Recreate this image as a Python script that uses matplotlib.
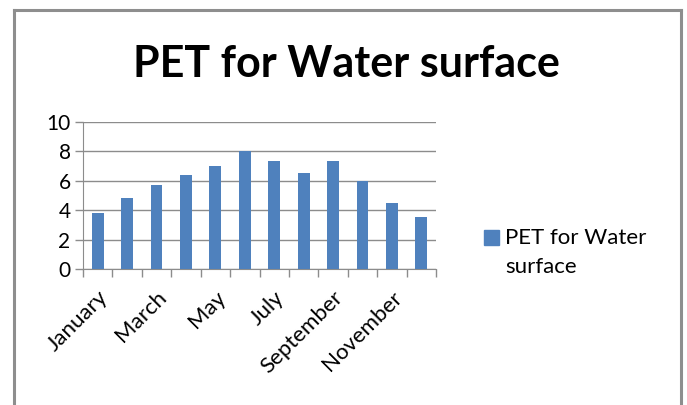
import matplotlib
matplotlib.use("Agg")
import matplotlib.pyplot as plt
from matplotlib.patches import Rectangle
from matplotlib.lines import Line2D
from matplotlib.legend_handler import HandlerPatch

months = ["January", "February", "March", "April", "May", "June",
          "July", "August", "September", "October", "November", "December"]
pet_values = [3.8, 4.85, 5.7, 6.4, 7.0, 8.05, 7.35, 6.55, 7.35, 6.0, 4.5, 3.55]
y_ticks = [0, 2, 4, 6, 8, 10]
series_name = "PET for Water\nsurface"
title_text = "PET for Water surface"

bar_color = "#4F81BD"
grid_color = "#8C8C8C"
font = ["Lato", "DejaVu Sans"]

fig = plt.figure(figsize=(6.87, 4.05), dpi=100)
fig.patch.set_facecolor("white")

# chart frame (left, top, right edges)
W, H = 687, 405
frame_kw = dict(color="#8E8E8E", lw=2.2, transform=fig.transFigure, clip_on=False)
fig.add_artist(Line2D([14 / W, 14 / W], [0, 1 - 10 / H], **frame_kw))
fig.add_artist(Line2D([14 / W, 681 / W], [1 - 10 / H, 1 - 10 / H], **frame_kw))
fig.add_artist(Line2D([681 / W, 681 / W], [0, 1 - 10 / H], **frame_kw))

ax = fig.add_axes([83 / W, 1 - 269 / H, (436 - 83) / W, (269 - 122) / H])
x = list(range(len(months)))
ax.bar(x, pet_values, width=0.4, color=bar_color, zorder=3)

ax.set_xlim(-0.5, len(months) - 0.5)
ax.set_ylim(0, 10)
ax.set_yticks(y_ticks)
ax.set_yticklabels([str(v) for v in y_ticks], fontsize=15, family=font)
ax.yaxis.grid(True, color=grid_color, lw=1, zorder=0)
ax.tick_params(axis="y", length=6, color=grid_color, width=1, pad=3)

# category boundaries as x ticks, month labels at every other category
ax.set_xticks([i - 0.5 for i in range(len(months) + 1)])
ax.set_xticklabels([])
ax.tick_params(axis="x", length=6, color=grid_color, width=1)
ax.set_xticks(x, minor=True)
ax.set_xticklabels([m if i % 2 == 0 else "" for i, m in enumerate(months)],
                   minor=True, rotation=45, ha="right", rotation_mode="anchor",
                   fontsize=16, family=font)
ax.tick_params(axis="x", which="minor", length=0, pad=13)

for side in ["top", "right"]:
    ax.spines[side].set_visible(False)
ax.spines["left"].set_color(grid_color)
ax.spines["bottom"].set_color(grid_color)

fig.text(0.5 * (135 + 558) / W, 1 - 77 / H, title_text, ha="center", va="baseline",
         fontsize=31, fontweight="bold", family=font)


def top_square(legend, orig_handle, xdescent, ydescent, width, height, fontsize):
    # square key aligned with the first line of a two-line label
    side = 0.66 * fontsize
    return Rectangle((-xdescent, -ydescent + height - side + 0.2 * fontsize),
                     side, side)


leg = fig.legend(handles=[Rectangle((0, 0), 1, 1, color=bar_color)],
                 labels=[series_name], loc="upper left",
                 bbox_to_anchor=(464 / W, 1 - 208 / H), frameon=False,
                 prop={"family": font, "size": 16},
                 handlelength=0.66, handleheight=2.2, handletextpad=0.3,
                 handler_map={Rectangle: HandlerPatch(patch_func=top_square)})
for t in leg.get_texts():
    t.set_linespacing(1.55)

fig.savefig("out.png", dpi=100)
